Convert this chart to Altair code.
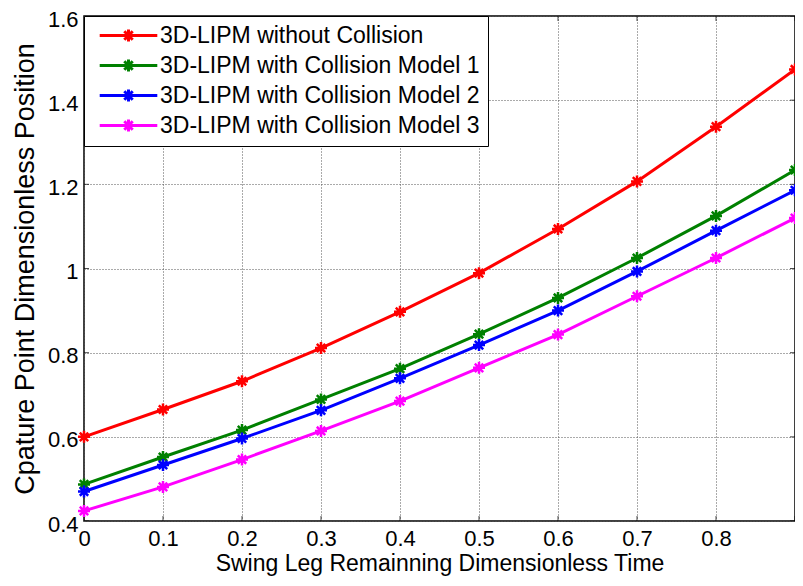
import altair as alt
import pandas as pd

x_vals = [0.0, 0.1, 0.2, 0.3, 0.4, 0.5, 0.6, 0.7, 0.8, 0.9]
no_collision = [0.600, 0.665, 0.732, 0.811, 0.897, 0.989, 1.094, 1.207, 1.337, 1.473]
model1 = [0.487, 0.552, 0.616, 0.689, 0.762, 0.844, 0.930, 1.025, 1.125, 1.234]
model2 = [0.470, 0.533, 0.596, 0.663, 0.739, 0.818, 0.900, 0.993, 1.090, 1.186]
model3 = [0.424, 0.481, 0.546, 0.614, 0.685, 0.764, 0.843, 0.934, 1.025, 1.120]

series_names = [
    "3D-LIPM without Collision",
    "3D-LIPM with Collision Model 1",
    "3D-LIPM with Collision Model 2",
    "3D-LIPM with Collision Model 3",
]
series_colors = ["#FF0000", "#008000", "#0000FF", "#FF00FF"]

x_ticks = [0.0, 0.1, 0.2, 0.3, 0.4, 0.5, 0.6, 0.7, 0.8, 0.9]
x_labels = [0.0, 0.1, 0.2, 0.3, 0.4, 0.5, 0.6, 0.7, 0.8]
y_ticks = [0.4, 0.6, 0.8, 1.0, 1.2, 1.4, 1.6]

rows = []
for name, vals in zip(series_names, [no_collision, model1, model2, model3]):
    for xv, yv in zip(x_vals, vals):
        rows.append({"t": xv, "p": yv, "series": name})
df = pd.DataFrame(rows)

FONT = "Liberation Sans"
ASTER = "M-1,0L1,0M0,-1L0,1M-0.7,-0.7L0.7,0.7M-0.7,0.7L0.7,-0.7"
LEG_SYM = "M-4.8,0L4.8,0M0,-1L0,1M-0.7,-0.7L0.7,0.7M-0.7,0.7L0.7,-0.7"

xscale = alt.Scale(domain=[0, 0.9], nice=False, zero=False)
yscale = alt.Scale(domain=[0.4, 1.6], nice=False, zero=False)

color = alt.Color(
    "series:N",
    scale=alt.Scale(domain=series_names, range=series_colors),
    legend=alt.Legend(
        title=None,
        orient="none",
        legendX=0,
        legendY=0,
        fillColor="white",
        strokeColor="black",
        padding=8,
        labelFont=FONT,
        labelFontSize=23,
        labelColor="black",
        symbolType=LEG_SYM,
        symbolSize=144,
        symbolStrokeWidth=3,
        symbolOffset=25,
        labelOffset=20,
        rowPadding=5,
        labelLimit=500,
    ),
)

base = alt.Chart(df)

lines = base.mark_line(strokeWidth=3).encode(
    x=alt.X(
        "t:Q",
        scale=xscale,
        axis=alt.Axis(
            values=x_labels,
            title="Swing Leg Remainning Dimensionless Time",
            labelExpr="format(datum.value, '~g')",
            gridDash=[1, 2],
            titleFontSize=23,
        ),
    ),
    y=alt.Y(
        "p:Q",
        scale=yscale,
        axis=alt.Axis(
            values=y_ticks,
            title="Cpature Point Dimensionless Position",
            labelExpr="format(datum.value, '~g')",
            gridDash=[1, 2],
            titleFontSize=27,
            labelOffset=3,
        ),
    ),
    color=color,
)

points = base.mark_point(shape=ASTER, size=144, filled=False, strokeWidth=2.5, opacity=1).encode(
    x=alt.X("t:Q", scale=xscale),
    y=alt.Y("p:Q", scale=yscale),
    color=color,
)

xt = pd.DataFrame({"t": x_ticks})
yt = pd.DataFrame({"p": y_ticks})

xtick_b = alt.Chart(xt).mark_tick(orient="vertical", size=10, thickness=1, color="black", clip=True).encode(
    x=alt.X("t:Q", scale=xscale), y=alt.Y("p0:Q", scale=yscale)
).transform_calculate(p0="0.4")
xtick_t = alt.Chart(xt).mark_tick(orient="vertical", size=10, thickness=1, color="black", clip=True).encode(
    x=alt.X("t:Q", scale=xscale), y=alt.Y("p0:Q", scale=yscale)
).transform_calculate(p0="1.6")
ytick_l = alt.Chart(yt).mark_tick(orient="horizontal", size=10, thickness=1, color="black", clip=True).encode(
    y=alt.Y("p:Q", scale=yscale), x=alt.X("t0:Q", scale=xscale)
).transform_calculate(t0="0")
ytick_r = alt.Chart(yt).mark_tick(orient="horizontal", size=10, thickness=1, color="black", clip=True).encode(
    y=alt.Y("p:Q", scale=yscale), x=alt.X("t0:Q", scale=xscale)
).transform_calculate(t0="0.9")

chart = (
    alt.layer(xtick_b, xtick_t, ytick_l, ytick_r, lines, points)
    .properties(
        width=711,
        height=505,
        autosize=alt.AutoSizeParams(type="none"),
        padding={"left": 76, "top": 8, "right": 0, "bottom": 55},
    )
    .configure_view(stroke="black", strokeWidth=1.5)
    .configure_axis(
        labelFont=FONT,
        titleFont=FONT,
        labelFontSize=22,
        labelColor="black",
        titleColor="black",
        titleFontWeight="normal",
        labelFlush=False,
        labelOverlap=False,
        domain=False,
        ticks=False,
        gridColor="#555555",
        gridOpacity=1,
        gridWidth=1,
    )
    .configure_axisX(labelPadding=7, titlePadding=3)
    .configure_axisY(labelPadding=6, titlePadding=8)
)

chart.save("out.html", embed_options={"renderer": "svg", "actions": False})
